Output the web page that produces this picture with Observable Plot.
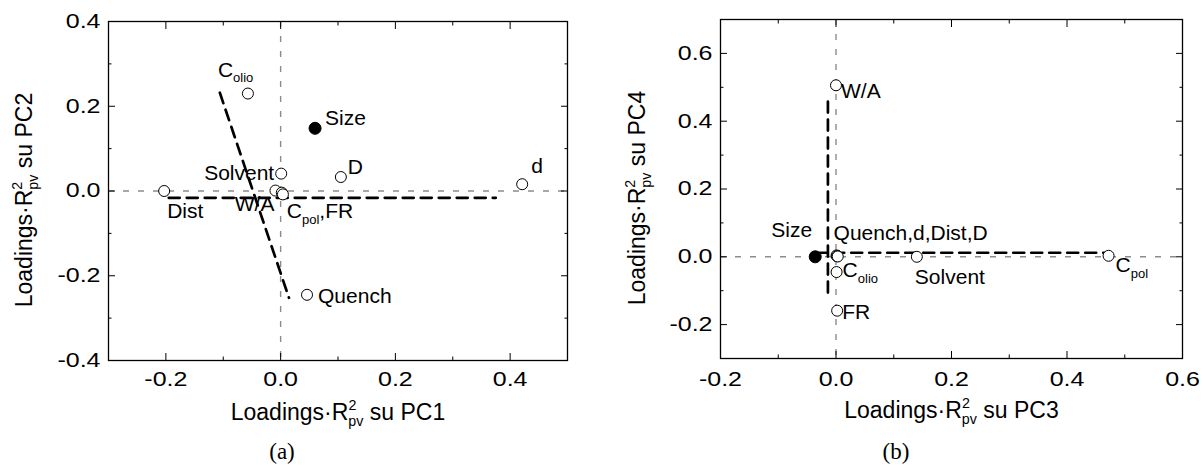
<!DOCTYPE html>
<html>
<head>
<meta charset="utf-8">
<script src="https://cdn.jsdelivr.net/npm/d3@7"></script>
<script src="https://cdn.jsdelivr.net/npm/@observablehq/plot@0.6"></script>
<style>
  html, body { margin: 0; padding: 0; background: #fff; }
  #wrap { position: relative; width: 1204px; height: 465px; overflow: hidden; background: #fff; }
  .panel { position: absolute; top: 0; }
  .cap { position: absolute; top: 441px; line-height: 22px; font-family: "Liberation Serif", "Times New Roman", serif; font-size: 23px; color: #000; transform: translateX(-50%); }
</style>
</head>
<body>
<div id="wrap">
  <div id="pa" class="panel" style="left:0px"></div>
  <div id="pb" class="panel" style="left:600px"></div>
  <div class="cap" style="left:282px">(a)</div>
  <div class="cap" style="left:896px">(b)</div>
</div>
<script>
// ---------------- DATA ----------------
// Panel (a): loadings on PC1 / PC2
const varsA = ["C_{olio}", "Size", "Solvent", "D", "d", "Dist", "W/A", "C_{pol}", "FR", "Quench"];
const pc1   = [-0.057, 0.060, 0.001, 0.105, 0.421, -0.203, -0.009, 0.002, 0.004, 0.046];
const pc2   = [0.230, 0.148, 0.041, 0.033, 0.016, 0.000, 0.001, -0.004, -0.008, -0.245];
const labelsA = ["C_{olio}", "Size", "Solvent", "D", "d", "Dist", "W/A", "C_{pol},FR", "", "Quench"];
const filledA = ["Size"];
// dashed guide lines, panel (a)
const guideA1x = [-0.195, 0.375], guideA1y = [-0.016, -0.016];
const guideA2x = [-0.106, 0.0145], guideA2y = [0.232, -0.252];

// Panel (b): loadings on PC3 / PC4
const varsB = ["W/A", "Size", "Quench", "d", "Dist", "D", "C_{olio}", "Solvent", "FR", "C_{pol}"];
const pc3   = [0.000, -0.036, 0.001, 0.002, 0.002, 0.003, 0.001, 0.140, 0.002, 0.472];
const pc4   = [0.506, 0.000, 0.004, 0.002, 0.002, 0.001, -0.045, 0.000, -0.159, 0.003];
const labelsB = ["W/A", "Size", "Quench,d,Dist,D", "", "", "", "C_{olio}", "Solvent", "FR", "C_{pol}"];
const filledB = ["Size"];
const guideB1x = [-0.014, -0.014], guideB1y = [0.458, -0.123];
const guideB2x = [-0.036, 0.465], guideB2y = [0.012, 0.012];

// axes
const xMajorA = [-0.2, 0.0, 0.2, 0.4], xMinorA = [-0.1, 0.1, 0.3];
const yMajorA = [-0.4, -0.2, 0.0, 0.2, 0.4], yMinorA = [-0.3, -0.1, 0.1, 0.3];
const xMajorB = [-0.2, 0.0, 0.2, 0.4, 0.6], xMinorB = [-0.1, 0.1, 0.3, 0.5];
const yMajorB = [-0.2, 0.0, 0.2, 0.4, 0.6], yMinorB = [-0.1, 0.1, 0.3, 0.5];
const titleXA = "Loadings·R^{2}_{pv} su PC1", titleYA = "Loadings·R^{2}_{pv} su PC2";
const titleXB = "Loadings·R^{2}_{pv} su PC3", titleYB = "Loadings·R^{2}_{pv} su PC4";

// ---------------- STYLE / LAYOUT (not data) ----------------
const labelPosA = {
  "C_{olio}":   {dx: -30, dy: -17, anchor: "start"},
  "Size":       {dx: 10,  dy: -3,  anchor: "start"},
  "Solvent":    {dx: -7,  dy: 6,   anchor: "end"},
  "D":          {dx: 7,   dy: -3,  anchor: "start"},
  "d":          {dx: 9,   dy: -11, anchor: "start"},
  "Dist":       {dx: 3,   dy: 27,  anchor: "start"},
  "W/A":        {dx: -1,  dy: 20,  anchor: "end"},
  "C_{pol},FR": {dx: 5,   dy: 25,  anchor: "start"},
  "Quench":     {dx: 11,  dy: 8,   anchor: "start"}
};
const labelPosB = {
  "W/A":             {dx: 5,  dy: 13,  anchor: "start"},
  "Size":            {dx: -3, dy: -20, anchor: "end"},
  "Quench,d,Dist,D": {dx: -3, dy: -15, anchor: "start"},
  "C_{olio}":        {dx: 6,  dy: 5,   anchor: "start"},
  "Solvent":         {dx: -2, dy: 27,  anchor: "start"},
  "FR":              {dx: 5,  dy: 8,   anchor: "start"},
  "C_{pol}":         {dx: 7,  dy: 16,  anchor: "start"}
};

const fmt = d => d.toFixed(1);
const FONT = "'Liberation Sans', Arial, Helvetica, sans-serif";
const TICK_STRETCH = 1.25;

function tickMarks(xMaj, xMin, yMaj, yMin) {
  const none = () => "";
  const marks = [];
  for (const [t, len] of [[xMaj, 7], [xMin, 3.5]]) {
    marks.push(Plot.axisX(t, {anchor: "bottom", tickSize: len, dy: -len, tickFormat: none, label: null, stroke: "black"}));
    marks.push(Plot.axisX(t, {anchor: "top", tickSize: len, dy: len, tickFormat: none, label: null, stroke: "black"}));
  }
  for (const [t, len] of [[yMaj, 7], [yMin, 3.5]]) {
    marks.push(Plot.axisY(t, {anchor: "left", tickSize: len, dx: len, tickFormat: none, label: null, stroke: "black"}));
    marks.push(Plot.axisY(t, {anchor: "right", tickSize: len, dx: -len, tickFormat: none, label: null, stroke: "black"}));
  }
  return marks;
}

function makePanel(cfg) {
  const pts = cfg.names.map((n, i) => ({name: n, x: cfg.xs[i], y: cfg.ys[i], label: cfg.labels[i], filled: cfg.filled.includes(n)}));
  const g1 = cfg.g1x.map((x, i) => ({x, y: cfg.g1y[i]}));
  const g2 = cfg.g2x.map((x, i) => ({x, y: cfg.g2y[i]}));
  const labelMarks = pts.filter(p => p.label).map(p => {
    const L = cfg.pos[p.label];
    return Plot.text([p], {x: "x", y: "y", text: "label", dx: L.dx, dy: L.dy, textAnchor: L.anchor, lineAnchor: "bottom", fontSize: 21, fill: "black"});
  });
  return Plot.plot({
    width: cfg.width, height: 430,
    marginLeft: cfg.ml, marginRight: cfg.mr, marginTop: cfg.mt, marginBottom: 430 - cfg.bottom,
    x: {domain: cfg.xd}, y: {domain: cfg.yd},
    style: {fontFamily: FONT, fontSize: "20px", background: "white", color: "black", overflow: "visible"},
    marks: [
      Plot.ruleX([0], {stroke: "#8c8c8c", strokeWidth: 1.4, strokeDasharray: "6,9"}),
      Plot.ruleY([0], {stroke: "#8c8c8c", strokeWidth: 1.4, strokeDasharray: "6,9"}),
      Plot.line(g1, {x: "x", y: "y", stroke: "black", strokeWidth: 2.7, strokeDasharray: "11,7"}),
      Plot.line(g2, {x: "x", y: "y", stroke: "black", strokeWidth: 2.7, strokeDasharray: "11,7"}),
      Plot.dot(pts.filter(p => !p.filled), {x: "x", y: "y", r: 5.5, stroke: "black", strokeWidth: 1, fill: "white"}),
      Plot.dot(pts.filter(p => p.filled), {x: "x", y: "y", r: 6, stroke: "black", strokeWidth: 1, fill: "black"}),
      ...labelMarks,
      Plot.frame({stroke: "black", strokeWidth: 1.3}),
      ...tickMarks(cfg.xMaj, cfg.xMin, cfg.yMaj, cfg.yMin),
      Plot.axisX(cfg.xMaj, {anchor: "bottom", tickSize: 0, tickPadding: cfg.xpad, tickFormat: fmt, fontSize: 20, label: null}),
      Plot.axisY(cfg.yMaj, {anchor: "left", tickSize: 0, tickPadding: 8, tickFormat: fmt, fontSize: 20, label: null}),
      Plot.text([cfg.tx], {frameAnchor: "bottom", dy: 52, text: d => d, fontSize: 23, textAnchor: "middle", lineAnchor: "middle"}),
      Plot.text([cfg.ty], {frameAnchor: "left", rotate: -90, dx: cfg.tyDx, dy: 9, text: d => d, fontSize: 23, textAnchor: "middle", lineAnchor: "middle"})
    ]
  });
}

function richText(root) {
  const NS = "http://www.w3.org/2000/svg";
  root.querySelectorAll("text").forEach(t => {
    const s = t.textContent;
    if (!/[_^]\{/.test(s)) return;
    const F = parseFloat(getComputedStyle(t).fontSize) || 20;
    while (t.firstChild) t.removeChild(t.firstChild);
    const parts = [];
    const re = /([_^])\{([^}]*)\}/g;
    let last = 0, m;
    while ((m = re.exec(s))) {
      if (m.index > last) parts.push({type: "n", txt: s.slice(last, m.index)});
      parts.push({type: m[1], txt: m[2]});
      last = re.lastIndex;
    }
    if (last < s.length) parts.push({type: "n", txt: s.slice(last)});
    let cur = 0, prev = null;
    for (const p of parts) {
      const ts = document.createElementNS(NS, "tspan");
      ts.textContent = p.txt;
      let target = 0;
      if (p.type === "^") { target = -0.45 * F; ts.setAttribute("font-size", (0.62 * F).toFixed(2)); }
      else if (p.type === "_") { target = 0.28 * F; ts.setAttribute("font-size", (0.62 * F).toFixed(2)); }
      const dy = target - cur;
      if (dy) ts.setAttribute("dy", dy.toFixed(2));
      t.appendChild(ts);
      if (p.type === "_" && prev && prev.type === "^") {
        ts.setAttribute("dx", (-prev.el.getComputedTextLength()).toFixed(2));
      }
      cur = target;
      prev = {type: p.type, el: ts};
    }
  });
}

// tick numbers in the reference are horizontally widened
function stretchTickLabels(root, k) {
  root.querySelectorAll('g[aria-label$="tick label"] text').forEach(t => {
    if (!t.textContent) return;
    const tr = t.getAttribute("transform");
    if (tr) {
      t.setAttribute("transform", tr + ` scale(${k},1)`);
    } else {
      const x = parseFloat(t.getAttribute("x")) || 0;
      t.removeAttribute("x");
      t.setAttribute("transform", `translate(${x},0) scale(${k},1)`);
    }
  });
}

const svgA = makePanel({
  width: 600, ml: 108, mr: 33, mt: 21, bottom: 360, xpad: 11,
  xd: [-0.3, 0.5], yd: [-0.4, 0.4],
  names: varsA, xs: pc1, ys: pc2, labels: labelsA, filled: filledA, pos: labelPosA,
  g1x: guideA1x, g1y: guideA1y, g2x: guideA2x, g2y: guideA2y,
  xMaj: xMajorA, xMin: xMinorA, yMaj: yMajorA, yMin: yMinorA,
  tx: titleXA, ty: titleYA, tyDx: -84
});
const svgB = makePanel({
  width: 604, ml: 120, mr: 22, mt: 19, bottom: 358, xpad: 13,
  xd: [-0.2, 0.6], yd: [-0.3, 0.7],
  names: varsB, xs: pc3, ys: pc4, labels: labelsB, filled: filledB, pos: labelPosB,
  g1x: guideB1x, g1y: guideB1y, g2x: guideB2x, g2y: guideB2y,
  xMaj: xMajorB, xMin: xMinorB, yMaj: yMajorB, yMin: yMinorB,
  tx: titleXB, ty: titleYB, tyDx: -83
});
document.getElementById("pa").appendChild(svgA);
document.getElementById("pb").appendChild(svgB);
richText(svgA);
richText(svgB);
stretchTickLabels(svgA, TICK_STRETCH);
stretchTickLabels(svgB, TICK_STRETCH);
</script>
</body>
</html>
